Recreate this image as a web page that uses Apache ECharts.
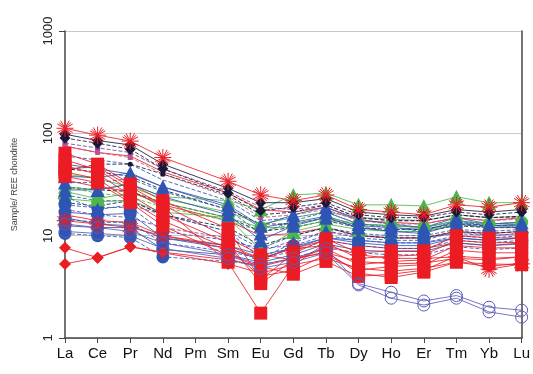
<!DOCTYPE html>
<html>
<head>
<meta charset="utf-8">
<script src="https://cdn.jsdelivr.net/npm/echarts@6/dist/echarts.min.js"></script>
<style>
  html, body { margin: 0; padding: 0; background: #fff; }
  #chart { width: 533px; height: 374px; }
</style>
</head>
<body>
<div id="chart"></div>
<script>
  // REE elements (Pm has no data)
  var elements = ['La', 'Ce', 'Pr', 'Nd', 'Pm', 'Sm', 'Eu', 'Gd', 'Tb', 'Dy', 'Ho', 'Er', 'Tm', 'Yb', 'Lu']
  var yTicks = [1, 10, 100, 1000]

  // plain lines, no big markers
  var lineBlue1 = [60, 55, 50, 35, null, 22, 14, 15, 17, 13, 12.5, 12, 14, 13, 13.5]
  var lineBlue2 = [50, 45, 40, 30, null, 19, 12, 13.5, 15.5, 12.5, 12, 11.5, 13.5, 12.5, 13]
  var lineBlack1 = [45, 42, 38, 28, null, 18, 13, 13, 15, 12, 11.5, 11.5, 13, 12.5, 12.5]
  var lineRed1 = [35, 30, 27, 20, null, 14, 10, 10.5, 12, 10, 9.5, 9.5, 11, 10.5, 11]
  var lineGreen1 = [30, 26, 24, 19, null, 14, 11, 13, 15, 13, 12.5, 12, 14, 13, 13.5]
  var lineBlue3 = [25, 22, 22, 16, null, 11, 7.5, 10, 12, 10.5, 10, 10, 11.5, 11, 11.5]
  var linePurple1 = [18, 16, 15, 12, null, 9.5, 7, 9, 11, 10, 9.5, 9.5, 10.5, 10, 10.5]
  var lineRed2 = [16, 14, 13.5, 10, null, 8, 6, 7.5, 9, 8, 7.5, 7.5, 8.5, 8, 8.5]
  var lineBlack2 = [30, 28, 27, 21, null, 15, 11, 12, 14, 12, 11, 11, 12.5, 12, 12]
  var lineRed3 = [75, 65, 60, 42, null, 26, 18, 17, 19, 14, 13.5, 13, 15, 14, 15]
  var lineGreen2 = [40, 36, 30, 23, null, 17, 13, 15, 17, 15, 14.5, 14, 16, 15, 15.5]
  var lineBlue4 = [15, 13, 12.5, 9.5, null, 7.5, 5.8, 7.8, 9.5, 9, 8.5, 8.5, 9.5, 9, 9.5]

  // green
  var greenTop = [30, 28, 32, 24, null, 22, 18, 25, 26, 20, 20, 19.5, 24, 21, 21]
  var greenTri = [27, 23, 26, 21, null, 15, 7.2, 11, 13, 11.5, 11, 11, 13, 12, 12.5]
  var greenCirc = [23, 21.5, 22, 17, null, 15, 12, 12, 14, 13, 12.5, 12, 14, 13, 13.5]

  // blue circles
  var blueCirc1 = [20, 18.7, 19, 11, null, 9, 7.5, 8, 10, 9, 8.5, 8.5, 10, 9.5, 10]
  var blueCirc2 = [17, 16, 16.5, 9.5, null, 8, 6.5, 7.5, 9.5, 8.5, 8, 8, 9.5, 9, 9.5]
  var blueCirc3 = [14.5, 13.5, 13.5, 8.5, null, 7, 6, 7, 9, 8, 7.5, 7.5, 9, 8.5, 9]
  var blueCirc4 = [12.5, 12, 12, 7.3, null, 6.5, 5.5, 6.5, 8.3, 7.2, 7, 7, 8.5, 8, 8.3]
  var blueCirc5 = [10.5, 10, 9.6, 6.2, null, 5.6, 5.2, 6, 7.6, 6.8, 6.5, 6.5, 7.8, 7.3, 7.6]

  // blue triangles
  var blueTri1 = [38, 37, 41, 30, null, 20, 12.5, 16, 19, 14.5, 13, 12, 15, 13, 13.5]
  var blueTri2 = [33, 33, 36, 27, null, 18, 10.5, 14, 17, 13, 12, 11, 14, 12.5, 12.5]
  var blueTri3 = [28, 28, 32, 24, null, 16, 9, 12.5, 15, 12, 11, 10.5, 13, 12, 12]
  var blueTri4 = [24, 18, 20, 16, null, 11, 6, 8.5, 11, 9.5, 9, 9, 11, 10, 10.5]

  // red squares
  var redSq1 = [64, 50, 32, 22, null, 11.7, 3.7, 6.7, 9.3, 6.8, 7.1, 7.1, 10, 9.5, 9.5]
  var redSq2 = [55, 44, 28, 19, null, 5.5, 1.75, 5.1, 8.5, 6.0, 6.3, 6.5, 9, 8.5, 8.6]
  var redSq3 = [48, 40, 25, 16, null, 8.5, 3.4, 5.8, 7.5, 5.2, 5.6, 5.8, 8, 7.6, 7.6]
  var redSq4 = [42, 36, 22, 14, null, 7.5, 4.0, 4.6, 6.5, 4.6, 5.0, 5.2, 7.2, 6.8, 6.8]
  var redSq5 = [38, 33, 21, 12.5, null, 6.4, 5.0, 4.2, 5.6, 4.0, 4.2, 4.6, 6.3, 6.0, 6.2]
  var redSq6 = [45, 47, 30, 20, null, 9.5, 6.5, 5.8, 7.0, 4.3, 3.9, 4.4, 5.5, 5.3, 5.2]

  // red diamonds
  var redDia1 = [5.3, 6.1, 7.8, 6.8, null, 5.3, 4.3, 5.2, 6.0, 4.8, 4.5, 4.8, 5.5, 5.0, 5.4]
  var redDia2 = [7.6, 6.1, 7.8, 6.9, null, 5.8, 5.0, 6.0, 6.8, 5.6, 5.3, 5.4, 6.0, 5.8, 6.2]

  // dark diamonds / circles and purple
  var darkDia1 = [98, 85, 77, 50, null, 29, 21, 21, 23, 17, 16, 15.5, 18, 17, 18]
  var darkDia2 = [90, 80, 70, 45, null, 26, 17.5, 19, 21, 16, 15, 15, 17, 16, 17]
  var darkCirc1 = [43, 50, 50, 40, null, 25, 16, 17, 20, 15, 14, 14, 16, 15, 15.5]
  var darkCirc2 = [21, 19.5, 22, 16, null, 12, 8, 10, 12, 10, 9.5, 9.5, 11, 10.5, 11]
  var purple1 = [80, 72, 65, 45, null, 27, 19, 18, 20, 15, 14, 14, 16, 15, 15]
  var purple2 = [75, 65, 58, 40, null, 24, 15, 16, 18, 14, 13, 13, 15, 14, 14.5]

  // red asterisks
  var redStar1 = [112, 96, 84, 58, null, 34, 25, 22, 25, 18, 17, 16, 20, 19, 21]
  var redStar2 = [14, 13, 12, 10, null, 7.5, 6, 7.5, 8, 6.5, 6, 6, 6.2, 4.7, 5.3]

  // open blue circles (HREE depleted)
  var openCirc1 = [13, 12, 11, 8.5, null, 6.5, 5.2, 6, 7.5, 3.4, 2.8, 2.3, 2.6, 2.0, 1.87]
  var openCirc2 = [11, 10.5, 10, 7.5, null, 6, 4.8, 5.5, 6.8, 3.3, 2.45, 2.1, 2.45, 1.8, 1.6]

  var RED = '#ec1c24', BLUE = '#2f55b4', GREEN = '#4cb849', DARK = '#1a1838', PURPLE = '#7b3f9e', OPEN = '#5c5cb8'
  var asterisk = 'path://M0,10L20,10M10,0L10,20M3,3L17,17M17,3L3,17M5,1L15,19M15,1L5,19M1,5L19,15M19,5L1,15'

  function mk(data, color, symbol, size, dashed, filled) {
    var s = {
      type: 'line',
      data: data,
      connectNulls: true,
      symbol: symbol,
      symbolSize: size,
      showSymbol: symbol !== 'none',
      animation: false,
      lineStyle: {color: color, width: 1, type: dashed ? 'dashed' : 'solid', opacity: 0.85},
      itemStyle: {color: color}
    }
    if (filled === false) {
      s.itemStyle = {color: 'rgba(0,0,0,0)', borderColor: color, borderWidth: 1}
    }
    return s
  }

  var series = [
    mk(lineBlue1, BLUE, 'none', 0, true),
    mk(lineBlue2, BLUE, 'none', 0, false),
    mk(lineBlack1, DARK, 'none', 0, true),
    mk(lineRed1, RED, 'none', 0, false),
    mk(lineGreen1, GREEN, 'none', 0, true),
    mk(lineBlue3, BLUE, 'none', 0, true),
    mk(linePurple1, PURPLE, 'none', 0, true),
    mk(lineRed2, RED, 'none', 0, false),
    mk(lineBlack2, DARK, 'none', 0, true),
    mk(lineRed3, RED, 'none', 0, false),
    mk(lineGreen2, GREEN, 'none', 0, false),
    mk(lineBlue4, BLUE, 'none', 0, false),
    mk(purple1, PURPLE, 'rect', 5, true),
    mk(purple2, '#c0508a', 'rect', 5, true),
    mk(darkCirc2, DARK, 'circle', 5, true),
    mk(darkCirc1, DARK, 'circle', 5, true),
    mk(greenTop, GREEN, 'triangle', 14, false),
    mk(greenCirc, GREEN, 'circle', 13, false),
    mk(blueCirc1, BLUE, 'circle', 13, true),
    mk(blueCirc2, BLUE, 'circle', 13, false),
    mk(blueCirc3, BLUE, 'circle', 13, true),
    mk(blueCirc4, BLUE, 'circle', 13, false),
    mk(blueCirc5, BLUE, 'circle', 13, true),
    mk(greenTri, GREEN, 'triangle', 15, false),
    mk(blueTri4, BLUE, 'triangle', 14, true),
    mk(blueTri3, BLUE, 'triangle', 14, false),
    mk(blueTri2, BLUE, 'triangle', 14, true),
    mk(blueTri1, BLUE, 'triangle', 14, false),
    mk(redSq6, RED, 'rect', 13, false),
    mk(redSq5, RED, 'rect', 13, false),
    mk(redSq4, RED, 'rect', 13, false),
    mk(redSq3, RED, 'rect', 13, false),
    mk(redSq2, RED, 'rect', 13, false),
    mk(redSq1, RED, 'rect', 13, false),
    mk(redDia1, RED, 'diamond', 12, false),
    mk(redDia2, RED, 'diamond', 12, false),
    mk(darkDia2, DARK, 'diamond', 11, true),
    mk(darkDia1, DARK, 'diamond', 11, false),
    mk(redStar2, RED, asterisk, 17, false, false),
    mk(redStar1, RED, asterisk, 17, false, false),
    mk(openCirc2, OPEN, 'circle', 12, false, false),
    mk(openCirc1, OPEN, 'circle', 12, false, false)
  ]

  var chart = echarts.init(document.getElementById('chart'), null, {renderer: 'canvas'})
  chart.setOption({
    animation: false,
    backgroundColor: '#fff',
    grid: {left: 65, right: 11, top: 31, bottom: 36},
    xAxis: {
      type: 'category',
      data: elements,
      boundaryGap: false,
      axisLine: {lineStyle: {color: '#444', width: 1.5}},
      axisTick: {show: true, length: 5, inside: false, lineStyle: {color: '#444'}},
      axisLabel: {color: '#111', fontSize: 15, fontFamily: 'Liberation Sans, Arial', margin: 8, interval: 0},
      splitLine: {show: false}
    },
    yAxis: [{
      type: 'log',
      logBase: 10,
      min: yTicks[0],
      max: yTicks[yTicks.length - 1],
      name: 'Sample/ REE chondrite',
      nameLocation: 'middle',
      nameGap: 46,
      nameTextStyle: {color: '#444', fontSize: 9, fontFamily: 'Liberation Sans, Arial'},
      axisLine: {show: true, lineStyle: {color: '#444', width: 1.5}},
      axisTick: {show: true, length: 6, lineStyle: {color: '#444'}},
      minorTick: {show: false},
      axisLabel: {
        color: '#222', fontSize: 13, rotate: 90, margin: 10, fontFamily: 'Liberation Sans, Arial',
        formatter: function (v) { return String(Math.round(v)) }
      },
      splitLine: {show: true, lineStyle: {color: '#c8c8c8', width: 1}}
    }, {
      type: 'log',
      logBase: 10,
      min: yTicks[0],
      max: yTicks[yTicks.length - 1],
      position: 'right',
      axisLine: {show: true, lineStyle: {color: '#444', width: 1.5}},
      axisTick: {show: false},
      axisLabel: {show: false},
      splitLine: {show: false}
    }],
    series: series
  })
</script>
</body>
</html>
